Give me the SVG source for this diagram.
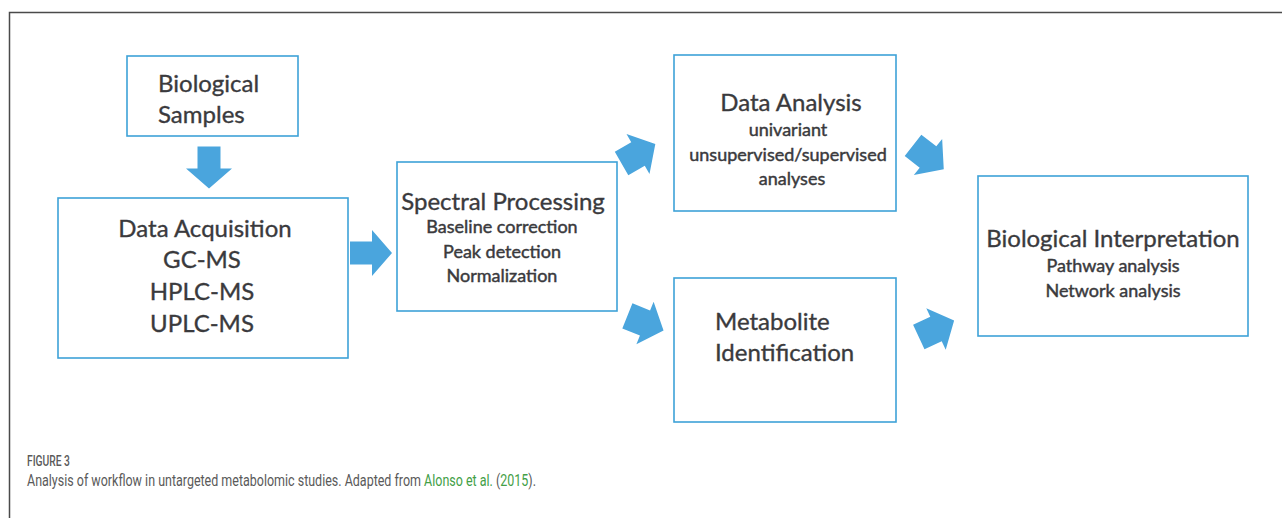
<svg xmlns="http://www.w3.org/2000/svg" width="1282" height="518" viewBox="0 0 1282 518">
  <style>
    .box { fill: #ffffff; stroke: #3ea2d8; stroke-width: 1.6; }
    .arrow { fill: #4aa5dd; }
    .t { font-family: Lato, "Open Sans", "Liberation Sans", sans-serif; fill: #3a3a3d; stroke: #3a3a3d; text-anchor: middle; }
    .big { font-size: 24px; stroke-width: 0.35; }
    .small { font-size: 18px; stroke-width: 0.45; }
    .cap { font-family: Roboto, "Liberation Sans", sans-serif; fill: #5a5a5a; }
    .link { fill: #43a047; }
  </style>
  <defs>
    <!-- straight block arrow pointing right, centred on the origin -->
    <path id="blockArrow" d="M-21,-11.5 H1 V-23 L21,0 L1,23 V11.5 H-21 Z"/>
    <!-- stubbier block arrow used on the diagonals -->
    <path id="stubArrow" d="M-19,-13.5 H0 V-23 L20,0 L0,23 V13.5 H-19 Z"/>
  </defs>

  <!-- page frame -->
  <path d="M9.5,518 V12.5 H1282" fill="none" stroke="#4a4a4a" stroke-width="1.5"/>

  <g id="connectors">
    <use href="#blockArrow" class="arrow" transform="translate(209,167.5) rotate(90)"/>
    <use href="#blockArrow" class="arrow" transform="translate(371,253)"/>
    <use href="#stubArrow" class="arrow" transform="translate(638,154) rotate(-30)"/>
    <use href="#stubArrow" class="arrow" transform="translate(645,323) rotate(22)"/>
    <use href="#stubArrow" class="arrow" transform="translate(928,157) rotate(38)"/>
    <use href="#stubArrow" class="arrow" transform="translate(936,329) rotate(-25)"/>
  </g>

  <g id="biological-samples">
    <rect class="box" x="127" y="56" width="171" height="80"/>
    <text class="t big" x="158" y="92" style="text-anchor:start">Biological</text>
    <text class="t big" x="158" y="123" style="text-anchor:start">Samples</text>
  </g>

  <g id="data-acquisition">
    <rect class="box" x="58" y="198" width="290" height="160"/>
    <text class="t big" x="205" y="237">Data Acquisition</text>
    <text class="t big" x="202" y="268">GC-MS</text>
    <text class="t big" x="202" y="300">HPLC-MS</text>
    <text class="t big" x="202" y="332">UPLC-MS</text>
  </g>

  <g id="spectral-processing">
    <rect class="box" x="397" y="162" width="220" height="149"/>
    <text class="t big" x="503" y="210">Spectral Processing</text>
    <text class="t small" x="502" y="233">Baseline correction</text>
    <text class="t small" x="502" y="258">Peak detection</text>
    <text class="t small" x="502" y="282">Normalization</text>
  </g>

  <g id="data-analysis">
    <rect class="box" x="674" y="55" width="222" height="156"/>
    <text class="t big" x="791" y="111">Data Analysis</text>
    <text class="t small" x="788" y="136">univariant</text>
    <text class="t small" x="788" y="161">unsupervised/supervised</text>
    <text class="t small" x="792" y="185">analyses</text>
  </g>

  <g id="metabolite-identification">
    <rect class="box" x="674" y="278" width="222" height="144"/>
    <text class="t big" x="715" y="330" style="text-anchor:start">Metabolite</text>
    <text class="t big" x="715" y="361" style="text-anchor:start">Identification</text>
  </g>

  <g id="biological-interpretation">
    <rect class="box" x="978" y="176" width="270" height="160"/>
    <text class="t big" x="1113" y="247">Biological Interpretation</text>
    <text class="t small" x="1113" y="272">Pathway analysis</text>
    <text class="t small" x="1113" y="297">Network analysis</text>
  </g>

  <!-- caption set in a horizontally condensed face -->
  <g id="caption" transform="translate(27,0) scale(0.735,1)">
    <text class="cap" x="0" y="466" font-size="14" font-weight="500">FIGURE 3</text>
    <text class="cap" x="0" y="486" font-size="17">Analysis of workflow in untargeted metabolomic studies. Adapted from <tspan class="link">Alonso et al.</tspan> (<tspan class="link">2015</tspan>).</text>
  </g>
</svg>
